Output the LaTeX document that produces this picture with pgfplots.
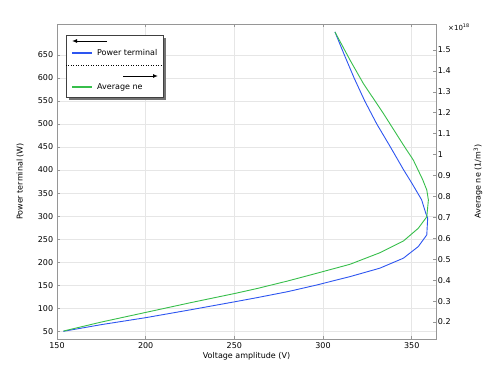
\documentclass[border=0pt]{standalone}
\usepackage{pgfplots}
\pgfplotsset{compat=1.18}
\usepackage{fontspec}
\setmainfont{DejaVu Sans}
\usetikzlibrary{arrows.meta}
\definecolor{cblue}{RGB}{45,85,240}
\definecolor{cgreen}{RGB}{55,190,75}
\definecolor{cgrid}{RGB}{230,230,230}
\definecolor{caxis}{RGB}{150,150,150}
\begin{document}
\fontsize{8bp}{9.6bp}\selectfont
\begin{tikzpicture}[x=1bp,y=1bp]
\useasboundingbox (-57,-39) rectangle (441,339);
\pgfplotsset{
  every axis/.append style={
    scale only axis, width=379bp, height=315bp,
    at={(0,0)}, anchor=south west,
    /pgf/number format/assume math mode=true,
    tick align=inside, major tick length=3bp,
    tick style={caxis, line width=0.6bp},
    axis line style={caxis, line width=0.8bp},
    tick label style={font=\fontsize{8bp}{9.6bp}\selectfont},
    label style={font=\fontsize{8bp}{9.6bp}\selectfont},
  }
}
\begin{axis}[
  xmin=150, xmax=363.7, ymin=33.3, ymax=717,
  xtick={150,200,250,300,350},
  ytick={50,100,...,650},
  ytick pos=left,
  grid=major, grid style={cgrid, line width=0.6bp},
  xlabel={Voltage amplitude (V)},
  ylabel={Power terminal (W)},
  xlabel style={at={(axis description cs:0.5,-0.054)}, anchor=center},
  ylabel style={at={(axis description cs:-0.0976,0.5)}, anchor=center},
  xticklabel style={yshift=-1bp},
  yticklabel style={xshift=-1bp},
]
\addplot[cblue, line width=0.9bp] coordinates {
(153.6,50) (175,64.5) (200,79.6) (225,96.5) (250.5,114.3) (262.7,123) (280,136) (296.4,150.5) (315.2,168.7)
(332,187) (345.3,208.7) (353.7,233.9) (358.5,259.3) (359,295.7) (357.9,306.5)
(355.6,335.4) (350,372) (345.5,400) (338,450) (330.3,500) (323.5,550) (317.5,600)
(312,650) (306.7,700)
};
\end{axis}
\begin{axis}[
  axis x line=none, axis y line*=right,
  xmin=150, xmax=363.7, ymin=0.119, ymax=1.624,
  ytick={0.2,0.3,0.4,0.5,0.6,0.7,0.8,0.9,1,1.1,1.2,1.3,1.4,1.5},
  ylabel={Average ne (1/m\textsuperscript{3})},
  ylabel style={at={(axis description cs:1.111,0.5)}, anchor=center, rotate=0},
  yticklabel style={xshift=-1bp},
]
\addplot[cgreen, line width=0.9bp] coordinates {
(153.6,0.157) (175,0.2) (200,0.246) (225,0.292) (250.5,0.337) (262.7,0.36) (280,0.396) (296.4,0.433) (315.2,0.476)
(332,0.531) (345.3,0.587) (353.7,0.648) (358.5,0.703) (359.4,0.783) (358.5,0.831)
(356.2,0.880) (350.9,0.974) (345.3,1.046) (334,1.197) (322.7,1.340) (315.2,1.452)
(306.7,1.586)
};
\end{axis}
\node[anchor=west, inner sep=0pt, font=\fontsize{7bp}{8bp}\selectfont] at (391,312) {×10\textsuperscript{18}};
% legend
\fill[black!55] (12,239) rectangle (109,301);
\draw[fill=white, draw=black!75, line width=0.8bp] (9,242) rectangle (106,304);
\draw[-{Latex[length=5bp,width=4bp]}, line width=1bp] (50,298) -- (15,298);
\draw[draw=cblue, line width=1.1bp] (15,286) -- (35,286);
\node[anchor=west, inner sep=0pt] at (40,286) {Power terminal};
\draw[dotted, line width=0.5bp] (9,274) -- (106,274);
\draw[-{Latex[length=5bp,width=4bp]}, line width=1bp] (66,263) -- (101,263);
\draw[draw=cgreen, line width=1.1bp] (15,252) -- (35,252);
\node[anchor=west, inner sep=0pt] at (40,252) {Average ne};
\end{tikzpicture}
\end{document}
